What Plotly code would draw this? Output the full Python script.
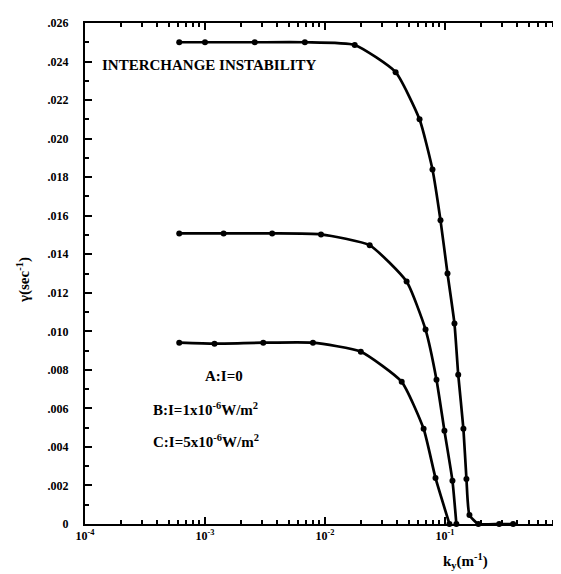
import plotly.graph_objects as go

# Curve A: I = 0
a_k = [6.1e-4, 1.0e-3, 2.6e-3, 6.8e-3, 0.0177, 0.0388, 0.0614, 0.0787, 0.0918, 0.105, 0.120, 0.129, 0.1425, 0.151, 0.160, 0.19, 0.283, 0.37]
a_g = [0.0250, 0.0250, 0.0250, 0.0250, 0.02486, 0.02345, 0.0210, 0.0184, 0.01576, 0.0130, 0.0104, 0.00775, 0.00494, 0.00234, 0.00047, 0.0, 0.0, 0.0]
# Curve B: I = 1x10^-6 W/m^2
b_k = [6.1e-4, 1.43e-3, 3.63e-3, 9.27e-3, 0.0236, 0.0479, 0.0689, 0.085, 0.099, 0.1155, 0.1245]
b_g = [0.01508, 0.01508, 0.01508, 0.01503, 0.01446, 0.01258, 0.01009, 0.00749, 0.00484, 0.00224, 0.0]
# Curve C: I = 5x10^-6 W/m^2
c_k = [6.1e-4, 1.2e-3, 3.06e-3, 7.94e-3, 0.0199, 0.0436, 0.0664, 0.0834, 0.109]
c_g = [0.00941, 0.00936, 0.00941, 0.00941, 0.00894, 0.00738, 0.00494, 0.00239, 0.0]

y_ticks = [0, 0.002, 0.004, 0.006, 0.008, 0.010, 0.012, 0.014, 0.016, 0.018, 0.020, 0.022, 0.024, 0.026]
y_labels = ["0", ".002", ".004", ".006", ".008", ".010", ".012", ".014", ".016", ".018", ".020", ".022", ".024", ".026"]
x_ticks = [1e-4, 1e-3, 1e-2, 1e-1, 1]
x_labels = ["10<sup>-4</sup>", "10<sup>-3</sup>", "10<sup>-2</sup>", "10<sup>-1</sup>", "10<sup>0</sup>"]
x_minor = [m * 10 ** e for e in range(-4, 0) for m in range(2, 10)]

FONT = "Liberation Serif"
XRANGE = [-4, 0.0005]

fig = go.Figure()
for k, g in [(a_k, a_g), (b_k, b_g), (c_k, c_g)]:
    fig.add_trace(go.Scatter(
        x=k, y=g, mode="lines+markers",
        line=dict(color="black", width=2.7, shape="spline", smoothing=0.5),
        marker=dict(color="black", size=6, symbol="circle"),
        showlegend=False, cliponaxis=False))

fig.update_layout(
    xaxis=dict(
        type="log", range=XRANGE, showgrid=False, zeroline=False, automargin=False,
        showline=True, linecolor="black", linewidth=2, mirror="ticks",
        ticks="inside", ticklen=7, tickwidth=1.5, tickcolor="black",
        tickvals=x_ticks, ticktext=x_labels, ticklabeloverflow="allow",
        tickfont=dict(family=FONT, size=12, color="black", weight="bold"),
    ),
    xaxis2=dict(
        type="log", range=XRANGE, overlaying="x", side="bottom", showgrid=False,
        zeroline=False, showline=False, mirror="ticks", automargin=False,
        ticks="inside", ticklen=4, tickwidth=1.5, tickcolor="black",
        tickvals=x_minor, showticklabels=False,
    ),
    yaxis=dict(
        range=[0, 0.026], showgrid=False, zeroline=False, automargin=False,
        showline=True, linecolor="black", linewidth=2, mirror="ticks",
        ticks="inside", ticklen=7, tickwidth=1.5, tickcolor="black",
        tickvals=y_ticks, ticktext=y_labels, ticklabelstandoff=12,
        tickfont=dict(family=FONT, size=12, color="black", weight="bold"),
        minor=dict(dtick=0.001, ticks="inside", ticklen=4, tickcolor="black", tickwidth=1.5, showgrid=False),
    ),
)
# invisible trace to activate the minor-tick axis
fig.add_trace(go.Scatter(x=[x_ticks[0]], y=[0], xaxis="x2", mode="markers",
                         marker=dict(opacity=0), showlegend=False, hoverinfo="skip"))

tfont = dict(family=FONT, size=15, color="black", weight="bold")
ann = [
    dict(text="INTERCHANGE INSTABILITY", x=0.031, y=0.916, xanchor="left", yanchor="middle"),
    dict(text="A:I=0", x=(195 - 77) / 480, y=(516 - 368) / 501, xanchor="left", yanchor="middle"),
    dict(text="B:I=1x10<sup>-6</sup>W/m<sup>2</sup>", x=(143 - 77) / 480, y=(516 - 401) / 501, xanchor="left", yanchor="middle"),
    dict(text="C:I=5x10<sup>-6</sup>W/m<sup>2</sup>", x=(143 - 77) / 480, y=(516 - 433) / 501, xanchor="left", yanchor="middle"),
    dict(text="k<sub>y</sub>(m<sup>-1</sup>)", x=(457 - 77) / 480, y=(516 - 553) / 501, xanchor="center", yanchor="middle"),
    dict(text="γ(sec<sup>-1</sup>)", x=(15 - 77) / 480, y=(516 - 272) / 501, xanchor="center", yanchor="middle", textangle=-90),
]
for a in ann:
    a.update(xref="paper", yref="paper", showarrow=False, font=tfont)
    fig.add_annotation(**a)

fig.update_layout(
    width=561, height=574,
    margin=dict(l=77, r=4, t=15, b=58, autoexpand=False),
    paper_bgcolor="white", plot_bgcolor="white",
)
fig.write_html("out.html")
